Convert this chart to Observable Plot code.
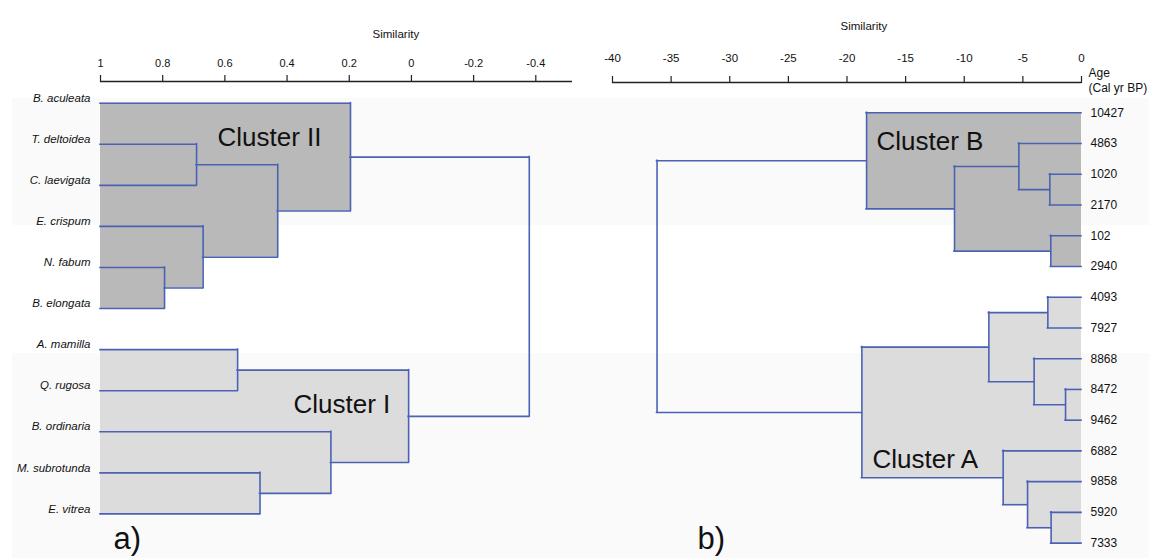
<!DOCTYPE html>
<html>
<head>
<meta charset="utf-8">
<script src="https://cdn.jsdelivr.net/npm/d3@7"></script>
<script src="https://cdn.jsdelivr.net/npm/@observablehq/plot@0.6"></script>
<style>
  html, body { margin: 0; padding: 0; background: #fff; }
  #wrap { position: relative; width: 1149px; height: 558px; overflow: hidden; font-family: "Liberation Sans", Arial, sans-serif; }
  .band { position: absolute; left: 12px; right: 0; background: #fafafa; }
  #left { position: absolute; left: 0; top: 0; }
  #right { position: absolute; left: 590px; top: 0; }
</style>
</head>
<body>
<div id="wrap">
  <div class="band" style="top:98px;height:127px"></div>
  <div class="band" style="top:353px;height:205px"></div>
  <div id="left"></div>
  <div id="right"></div>
</div>
<script>
// ---- a) species dendrogram (similarity) ----
const speciesLeaves = [
  "B. aculeata", "T. deltoidea", "C. laevigata", "E. crispum", "N. fabum", "B. elongata",
  "A. mamilla", "Q. rugosa", "B. ordinaria", "M. subrotunda", "E. vitrea"
];
// linkage rows: [child index, child index, similarity at merge]; new nodes get index n, n+1, ...
const speciesMerges = [
  [4, 5, 0.794],    // 11
  [1, 2, 0.691],    // 12
  [3, 11, 0.670],   // 13
  [9, 10, 0.487],   // 14
  [6, 7, 0.559],    // 15
  [12, 13, 0.430],  // 16
  [8, 14, 0.259],   // 17
  [0, 16, 0.196],   // 18
  [15, 17, 0.009],  // 19
  [18, 19, -0.379]  // 20
];
const speciesClusters = [
  { name: "Cluster II", node: 18 },
  { name: "Cluster I", node: 19 }
];
const speciesTicks = [1, 0.8, 0.6, 0.4, 0.2, 0, -0.2, -0.4];

// ---- b) sample dendrogram (age samples) ----
const ageLeaves = [
  "10427", "4863", "1020", "2170", "102", "2940", "4093", "7927",
  "8868", "8472", "9462", "6882", "9858", "5920", "7333"
];
const ageMerges = [
  [9, 10, -1.36],    // 15
  [13, 14, -2.59],   // 16
  [4, 5, -2.62],     // 17
  [2, 3, -2.70],     // 18
  [6, 7, -2.87],     // 19
  [8, 15, -4.04],    // 20
  [12, 16, -4.60],   // 21
  [1, 18, -5.34],    // 22
  [11, 21, -6.68],   // 23
  [19, 20, -7.90],   // 24
  [22, 17, -10.83],  // 25
  [0, 25, -18.33],   // 26
  [24, 23, -18.73],  // 27
  [26, 27, -36.2]    // 28
];
const ageClusters = [
  { name: "Cluster B", node: 26 },
  { name: "Cluster A", node: 27 }
];
const ageTicks = [-40, -35, -30, -25, -20, -15, -10, -5, 0];

// ---- tree helpers ----
function buildTree(leaves, merges, base) {
  const nodes = leaves.map((label, i) => ({ label, h: base, y: i }));
  for (const [a, b, h] of merges) {
    const A = nodes[a], B = nodes[b];
    nodes.push({ a: A, b: B, h, y: (A.y + B.y) / 2 });
  }
  return nodes;
}
function segments(nodes) {
  const hs = [], vs = [];
  for (const n of nodes) if (n.a) {
    for (const c of [n.a, n.b]) hs.push({ y: c.y, x1: c.h, x2: n.h });
    vs.push({ x: n.h, y1: n.a.y, y2: n.b.y });
  }
  return { hs, vs };
}
function clusterRects(root, base, name) {
  const out = [];
  (function walk(n) {
    if (!n.a) return;
    out.push({ cluster: name, x1: base, x2: n.h, y1: n.a.y, y2: n.b.y });
    walk(n.a); walk(n.b);
  })(root);
  return out;
}

const LINE = "#4b62b4";
const FONT = "Liberation Sans, Arial, sans-serif";
const clusterFill = {
  "Cluster II": "#b9b9b9", "Cluster I": "#dcdcdc",
  "Cluster B": "#b9b9b9", "Cluster A": "#dcdcdc"
};
// label placement relative to the frame's top-left corner (px)
const clusterLabelOffset = {
  "Cluster II": [117, 64], "Cluster I": [193, 331],
  "Cluster B": [264, 67], "Cluster A": [260, 385]
};

function dendrogram({ leaves, merges, clusters, ticks, base, xDomain, xRange, yDomain, yRange,
                      width, marginLeft, marginRight, marginTop, tickPadding, tickFont, extra }) {
  const nodes = buildTree(leaves, merges, base);
  const { hs, vs } = segments(nodes);
  const rects = clusters.flatMap(c => clusterRects(nodes[c.node], base, c.name));
  const labels = clusters.map(c => c.name);
  return Plot.plot({
    width, height: 558,
    marginLeft, marginRight, marginTop, marginBottom: 0,
    style: { background: "transparent", overflow: "visible", fontFamily: FONT, color: "#111" },
    x: { domain: xDomain, range: xRange },
    y: { domain: yDomain, range: yRange, axis: null },
    marks: [
      Plot.rect(rects, { x1: "x1", x2: "x2", y1: "y1", y2: "y2", fill: d => clusterFill[d.cluster] }),
      Plot.ruleY(hs, { y: "y", x1: "x1", x2: "x2", stroke: LINE, strokeWidth: 1.6, strokeLinecap: "square" }),
      Plot.ruleX(vs, { x: "x", y1: "y1", y2: "y2", stroke: LINE, strokeWidth: 1.6, strokeLinecap: "square" }),
      Plot.axisX(ticks, { anchor: "top", tickSize: 7, tickPadding, fontSize: tickFont, tickFormat: d => String(d), label: null, stroke: "#222", strokeWidth: 1.2 }),
      Plot.ruleY([yDomain[0]], { x1: xDomain[0], x2: xDomain[1], stroke: "#222", strokeWidth: 1.3 }),
      ...labels.map(name => Plot.text([name], {
        frameAnchor: "top-left", dx: clusterLabelOffset[name][0], dy: clusterLabelOffset[name][1],
        textAnchor: "start", lineAnchor: "bottom", fontSize: 26, fill: "#111"
      })),
      ...extra
    ]
  });
}

// a) species
document.getElementById("left").append(dendrogram({
  leaves: speciesLeaves, merges: speciesMerges, clusters: speciesClusters, ticks: speciesTicks,
  base: 1,
  xDomain: [1, -0.518], xRange: [100, 572],
  yDomain: [-0.528, 11.086], yRange: [81, 558],
  width: 590, marginLeft: 100, marginRight: 18, marginTop: 81,
  tickPadding: 8, tickFont: 11,
  extra: [
    Plot.text(speciesLeaves, { x: 1, y: (d, i) => i, dx: -10, dy: -5, textAnchor: "end",
      fontSize: 11.5, fontStyle: "italic", fill: "#111" }),
    Plot.text(["Similarity"], { frameAnchor: "top-left", dx: 272, dy: -52, fontSize: 11.5, fill: "#111" }),
    Plot.text(["a)"], { frameAnchor: "top-left", dx: 13, dy: 467, textAnchor: "start", lineAnchor: "bottom", fontSize: 31, fill: "#111" })
  ]
}));

// b) age samples
document.getElementById("right").append(dendrogram({
  leaves: ageLeaves, merges: ageMerges, clusters: ageClusters, ticks: ageTicks,
  base: 0,
  xDomain: [-40, 0], xRange: [22, 491],
  yDomain: [-0.985, 14.5], yRange: [82, 558],
  width: 559, marginLeft: 22, marginRight: 68, marginTop: 82,
  tickPadding: 14, tickFont: 11.5,
  extra: [
    Plot.text(ageLeaves, { x: 0, y: (d, i) => i, dx: 9, textAnchor: "start", fontSize: 12, fill: "#111" }),
    Plot.text(["Age"], { x: 0, y: -0.985, dx: 7, dy: -9, textAnchor: "start", fontSize: 12, fill: "#111" }),
    Plot.text(["(Cal yr BP)"], { x: 0, y: -0.985, dx: 7, dy: 6, textAnchor: "start", fontSize: 12, fill: "#111" }),
    Plot.text(["Similarity"], { frameAnchor: "top-left", dx: 228, dy: -61, fontSize: 11.5, fill: "#111" }),
    Plot.text(["b)"], { frameAnchor: "top-left", dx: 85, dy: 466, textAnchor: "start", lineAnchor: "bottom", fontSize: 31, fill: "#111" })
  ]
}));
</script>
</body>
</html>
